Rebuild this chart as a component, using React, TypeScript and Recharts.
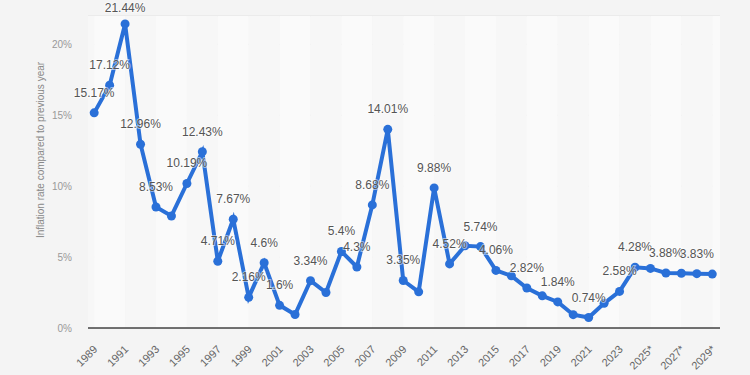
import React from 'react';
import {
  LineChart,
  Line,
  XAxis,
  YAxis,
  CartesianGrid,
  ReferenceArea,
  LabelList,
} from 'recharts';

const YEARS = [
  1989, 1990, 1991, 1992, 1993, 1994, 1995, 1996, 1997, 1998, 1999, 2000, 2001, 2002,
  2003, 2004, 2005, 2006, 2007, 2008, 2009, 2010, 2011, 2012, 2013, 2014, 2015, 2016,
  2017, 2018, 2019, 2020, 2021, 2022, 2023, 2024, 2025, 2026, 2027, 2028, 2029,
];

const INFLATION = [
  15.17, 17.12, 21.44, 12.96, 8.53, 7.9, 10.19, 12.43, 4.71, 7.67, 2.16, 4.6, 1.6, 0.95,
  3.34, 2.5, 5.4, 4.3, 8.68, 14.01, 3.35, 2.55, 9.88, 4.52, 5.8, 5.74, 4.06, 3.68,
  2.82, 2.27, 1.84, 0.94, 0.74, 1.74, 2.58, 4.28, 4.2, 3.88, 3.86, 3.83, 3.8,
];

// years whose value label is shown (others are hidden to avoid overlap)
const LABELED_YEARS = [
  1989, 1990, 1991, 1992, 1993, 1995, 1996, 1997, 1998, 1999, 2000, 2001, 2003, 2005,
  2006, 2007, 2008, 2009, 2011, 2012, 2014, 2015, 2017, 2019, 2021, 2023, 2024, 2026,
  2028,
];

const X_TICKS = [
  1989, 1991, 1993, 1995, 1997, 1999, 2001, 2003, 2005, 2007, 2009, 2011, 2013, 2015,
  2017, 2019, 2021, 2023, 2025, 2027, 2029,
];

const FORECAST_FROM = 2025;
const Y_TICKS = [0, 5, 10, 15, 20];

const X_DOMAIN: [number, number] = [1988.6, 2029.5];
const BLUE = '#2a70d8';
const FONT = '"Liberation Sans", Arial, sans-serif';

const chartData = YEARS.map((year, i) => ({ year, value: INFLATION[i] }));

// alternating vertical bands between odd-year ticks
const bandEdges = [X_DOMAIN[0], ...X_TICKS, X_DOMAIN[1]];
const bands = bandEdges.slice(0, -1).map((x1, i) => ({
  x1,
  x2: bandEdges[i + 1],
  fill: i % 2 === 0 ? '#f7f7f7' : '#fafafa',
}));

const formatPct = (v: number) => `${v}%`;

function ValueLabel(props: any) {
  const { x, y, value, index } = props;
  if (!LABELED_YEARS.includes(YEARS[index])) return null;
  // keep the topmost label inside the picture
  const ty = Math.max(y - 16, 12);
  return (
    <text
      x={x}
      y={ty}
      textAnchor="middle"
      fontSize={12}
      fontFamily={FONT}
      fill="#555"
      stroke="#ffffff"
      strokeWidth={2}
      strokeOpacity={0.5}
      paintOrder="stroke"
    >
      {formatPct(value)}
    </text>
  );
}

function YearTick(props: any) {
  const { x, y, payload } = props;
  const label = payload.value >= FORECAST_FROM ? `${payload.value}*` : `${payload.value}`;
  const tx = x + 4;
  const ty = y + 14;
  return (
    <text
      x={tx}
      y={ty}
      textAnchor="end"
      fontSize={11}
      fontFamily={FONT}
      fill="#666"
      transform={`rotate(-45, ${tx}, ${ty})`}
    >
      {label}
    </text>
  );
}

export default function App() {
  return (
    <div
      style={{
        position: 'fixed',
        left: 0,
        top: 0,
        width: 750,
        height: 375,
        background: '#f4f4f4',
        fontFamily: FONT,
      }}
    >
      <div
        style={{
          position: 'absolute',
          left: 40,
          top: 150,
          transform: 'translate(-50%, -50%) rotate(-90deg)',
          whiteSpace: 'nowrap',
          fontSize: 10,
          color: '#888',
        }}
      >
        Inflation rate compared to previous year
      </div>
      <LineChart
        width={750}
        height={375}
        data={chartData}
        margin={{ top: 16, right: 30, bottom: 7, left: 30 }}
      >
        {bands.map((b) => (
          <ReferenceArea
            key={b.x1}
            x1={b.x1}
            x2={b.x2}
            fill={b.fill}
            fillOpacity={1}
            stroke="none"
            ifOverflow="hidden"
          />
        ))}
        <CartesianGrid vertical={false} stroke="#e2e2e2" />
        <XAxis
          dataKey="year"
          type="number"
          domain={X_DOMAIN}
          ticks={X_TICKS}
          interval={0}
          height={40}
          tickLine={false}
          stroke="#444"
          strokeWidth={1.5}
          tick={<YearTick />}
        />
        <YAxis
          width={58}
          domain={[0, 22]}
          ticks={Y_TICKS}
          axisLine={false}
          tickLine={false}
          tickSize={0}
          tickMargin={16}
          tickFormatter={formatPct}
          tick={{ fontSize: 10, fill: '#999', fontFamily: FONT }}
        />
        <Line
          type="linear"
          dataKey="value"
          stroke={BLUE}
          strokeWidth={4}
          dot={{ r: 4.5, fill: BLUE, stroke: BLUE, strokeWidth: 0 }}
          isAnimationActive={false}
        >
          <LabelList dataKey="value" content={<ValueLabel />} />
        </Line>
      </LineChart>
    </div>
  );
}
